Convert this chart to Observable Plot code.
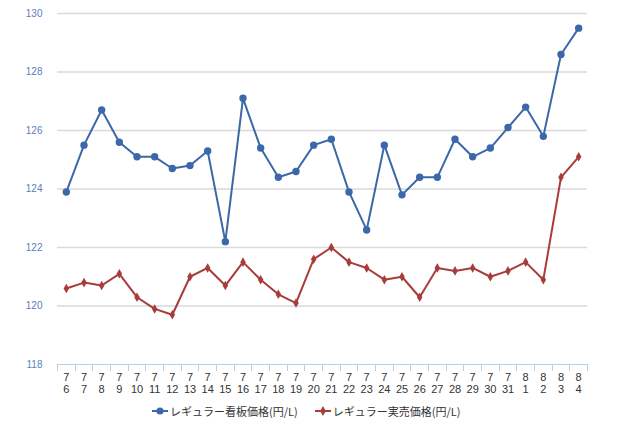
<!DOCTYPE html>
<html><head><meta charset="utf-8">
<script src="https://cdn.jsdelivr.net/npm/d3@7"></script>
<script src="https://cdn.jsdelivr.net/npm/@observablehq/plot@0.6"></script>
<style>
body{margin:0;background:#fff;}
#legend{display:flex;align-items:center;height:26px;padding-left:152px;font-family:"Noto Sans CJK JP","Noto Sans",sans-serif;font-size:11px;color:#333;}
.item{display:flex;align-items:center;margin-right:17px;}
.item svg{margin-right:2px;}
</style></head><body><div id="chart"></div><div id="legend"></div>
<script>
const dates = ["7/6","7/7","7/8","7/9","7/10","7/11","7/12","7/13","7/14","7/15","7/16","7/17","7/18","7/19","7/20","7/21","7/22","7/23","7/24","7/25","7/26","7/27","7/28","7/29","7/30","7/31","8/1","8/2","8/3","8/4"];
const kanban = [123.9,125.5,126.7,125.6,125.1,125.1,124.7,124.8,125.3,122.2,127.1,125.4,124.4,124.6,125.5,125.7,123.9,122.6,125.5,123.8,124.4,124.4,125.7,125.1,125.4,126.1,126.8,125.8,128.6,129.5];
const jitsubai = [120.6,120.8,120.7,121.1,120.3,119.9,119.7,121.0,121.3,120.7,121.5,120.9,120.4,120.1,121.6,122.0,121.5,121.3,120.9,121.0,120.3,121.3,121.2,121.3,121.0,121.2,121.5,120.9,124.4,125.1];
const seriesNames = ["レギュラー看板価格(円/L)","レギュラー実売価格(円/L)"];
const yTicks = [118,120,122,124,126,128,130];
const colors = ["#3b68a8","#a83c3a"];
const symbols = ["circle","diamond"];

const data = dates.flatMap((d,i)=>[
  {date:d, value:kanban[i], series:seriesNames[0]},
  {date:d, value:jitsubai[i], series:seriesNames[1]}
]);

const boundaryTicks = (index, scales, values, dims) => {
  const x = scales.x;
  const step = x(dates[1]) - x(dates[0]);
  const y0 = dims.height - dims.marginBottom;
  const g = d3.create("svg:g").attr("stroke","#b9cfe8").attr("stroke-width",1);
  for (let i = 0; i <= dates.length; i++) {
    const px = Math.round(x(dates[0]) + (i - 0.5) * step) + 0.5;
    g.append("line").attr("x1",px).attr("x2",px).attr("y1",y0).attr("y2",y0+7);
  }
  return g.node();
};

const chart = Plot.plot({
  width: 640, height: 398,
  marginTop: 13, marginBottom: 34, marginLeft: 57, marginRight: 53,
  style: {fontFamily: "'Liberation Sans', Arial, sans-serif", fontSize: "10px", background: "#fff"},
  x: {type: "point", domain: dates, padding: 0.5, round: false, label: null},
  y: {domain: [118,130], label: null},
  color: {domain: seriesNames, range: colors},
  symbol: {domain: seriesNames, range: symbols},
  marks: [
    Plot.gridY(yTicks.filter(t => t > 118), {stroke: "#d9d9d9", strokeOpacity: 1, strokeWidth: 1.3}),
    Plot.ruleY([118], {stroke: "#b9cfe8", strokeWidth: 1}),
    boundaryTicks,
    Plot.axisY({ticks: yTicks, tickSize: 0, tickPadding: 15, fill: "#5b80bd", fontSize: 10}),
    Plot.axisX({tickSize: 0, tickPadding: 8, tickFormat: d => d.replace("/", "\n"), fontSize: 11, fill: "#333", lineHeight: 1.1}),
    Plot.line(data, {x: "date", y: "value", z: "series", stroke: "series", strokeWidth: 2}),
    Plot.dot(data.filter(d => d.series === seriesNames[0]), {x: "date", y: "value", fill: "series", symbol: "series", r: 3.7, stroke: "none"}),
    Plot.dot(data.filter(d => d.series === seriesNames[1]), {x: "date", y: "value", fill: "series", symbol: "series", r: 2.9, stroke: "none"})
  ]
});
document.getElementById("chart").appendChild(chart);

const legend = document.getElementById("legend");
seriesNames.forEach((name, i) => {
  const item = document.createElement("div");
  item.className = "item";
  const sym = d3.symbol(i === 0 ? d3.symbolCircle : d3.symbolDiamond, i === 0 ? 40 : 28)();
  item.innerHTML = `<svg width="16" height="10"><line x1="0" x2="16" y1="5" y2="5" stroke="${colors[i]}" stroke-width="2"/><path transform="translate(8,5)" d="${sym}" fill="${colors[i]}"/></svg><span>${name}</span>`;
  legend.appendChild(item);
});
</script>
</body></html>
